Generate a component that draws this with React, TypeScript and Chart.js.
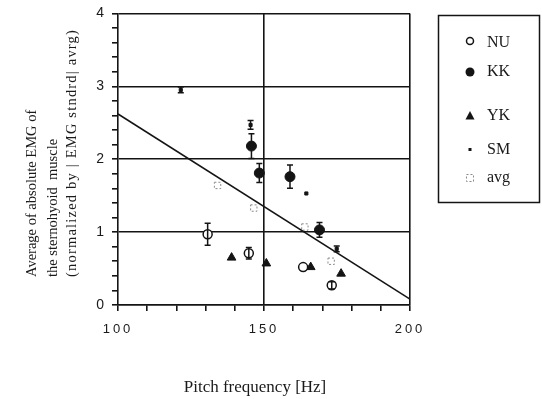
import React, { useEffect, useRef } from 'react';
import { Chart, registerables } from 'chart.js';

Chart.register(...registerables);

// ---- data ----
const nuX = [130.7, 144.8, 163.4, 173.2];
const nuY = [0.97, 0.71, 0.52, 0.27];
const nuErr = [0.15, 0.08, 0, 0.05];

const kkX = [145.7, 148.4, 158.9, 169.0];
const kkY = [2.18, 1.81, 1.76, 1.03];
const kkErr = [0.17, 0.13, 0.16, 0.1];

const ykX = [138.9, 150.8, 166.0, 176.4];
const ykY = [0.65, 0.57, 0.52, 0.43];

const smX = [121.5, 145.4, 164.5, 174.9];
const smY = [2.95, 2.47, 1.53, 0.77];
const smErr = [0.04, 0.06, 0, 0.04];

const avgX = [134.1, 146.5, 164.0, 173.0];
const avgY = [1.64, 1.33, 1.07, 0.6];

const fitX = [100, 200];
const fitY = [2.62, 0.08];

const xTickLabels = [100, 150, 200];
const yTickLabels = [0, 1, 2, 3, 4];
const seriesNames = ['NU', 'KK', 'YK', 'SM', 'avg'];
const xTitle = 'Pitch frequency [Hz]';
const yTitle = [
  'Average of absolute EMG of',
  'the sternohyoid  muscle',
  '(normalized by | EMG stndrd| avrg)',
];

const INK = '#141414';
const SERIF = '"Liberation Serif", "DejaVu Serif", serif';
const SANS = '"Liberation Sans", Arial, sans-serif';

const pts = (xs: number[], ys: number[]) => xs.map((x, i) => ({ x, y: ys[i] }));

const errorBarPlugin = {
  id: 'errorBars',
  afterDatasetsDraw(chart: any) {
    const ctx = chart.ctx;
    const xs = chart.scales.x;
    const ys = chart.scales.y;
    chart.data.datasets.forEach((ds: any) => {
      const errs: number[] | undefined = ds.errors;
      if (!errs) return;
      ds.data.forEach((p: any, i: number) => {
        const e = errs[i];
        if (!e) return;
        const px = xs.getPixelForValue(p.x);
        const top = ys.getPixelForValue(p.y + e);
        const bot = ys.getPixelForValue(p.y - e);
        ctx.save();
        ctx.strokeStyle = INK;
        ctx.lineWidth = 1.5;
        ctx.setLineDash([]);
        ctx.beginPath();
        ctx.moveTo(px, top);
        ctx.lineTo(px, bot);
        ctx.moveTo(px - 3, top);
        ctx.lineTo(px + 3, top);
        ctx.moveTo(px - 3, bot);
        ctx.lineTo(px + 3, bot);
        ctx.stroke();
        ctx.restore();
      });
    });
  },
};

const spacingPlugin = {
  id: 'spacing',
  beforeDraw(chart: any) {
    chart.ctx.letterSpacing = '3px';
  },
  beforeDatasetsDraw(chart: any) {
    chart.ctx.letterSpacing = '0px';
  },
  beforeDatasetDraw(chart: any, args: any) {
    const ds = chart.data.datasets[args.index];
    if (ds.dashed) chart.ctx.setLineDash([2, 2]);
  },
  afterDatasetDraw(chart: any) {
    chart.ctx.setLineDash([]);
  },
};

const textPlugin = {
  id: 'texts',
  afterDraw(chart: any) {
    const ctx = chart.ctx;
    const area = chart.chartArea;
    ctx.save();
    ctx.letterSpacing = '0px';
    ctx.fillStyle = '#1a1a1a';
    // x title
    ctx.font = `17px ${SERIF}`;
    ctx.textAlign = 'center';
    ctx.textBaseline = 'middle';
    ctx.fillText(xTitle, (area.left + area.right) / 2 - 9, 388);
    // y title
    ctx.save();
    ctx.rotate(-Math.PI / 2);
    ctx.textAlign = 'left';
    ctx.font = `14.5px ${SERIF}`;
    const lineX = [32, 53, 72];
    const spacing = ['0px', '0px', '1.2px'];
    yTitle.forEach((t, i) => {
      ctx.letterSpacing = spacing[i];
      ctx.fillText(t, -277, lineX[i]);
    });
    ctx.letterSpacing = '0px';
    ctx.restore();

    // legend box
    ctx.strokeStyle = INK;
    ctx.lineWidth = 1.5;
    ctx.strokeRect(438.5, 15.5, 101, 187);
    const rowY = [43, 72, 116, 150, 178];
    const mx = 470;
    ctx.font = `16px ${SERIF}`;
    ctx.textAlign = 'left';
    ctx.textBaseline = 'middle';
    seriesNames.forEach((name, i) => {
      const y = rowY[i];
      ctx.save();
      ctx.fillStyle = INK;
      ctx.strokeStyle = INK;
      if (i === 0) {
        ctx.lineWidth = 1.5;
        ctx.beginPath();
        ctx.arc(mx, y - 2, 3.5, 0, Math.PI * 2);
        ctx.stroke();
      } else if (i === 1) {
        ctx.beginPath();
        ctx.arc(mx, y, 4.5, 0, Math.PI * 2);
        ctx.fill();
      } else if (i === 2) {
        ctx.beginPath();
        ctx.moveTo(mx, y - 5);
        ctx.lineTo(mx + 4.5, y + 3.5);
        ctx.lineTo(mx - 4.5, y + 3.5);
        ctx.closePath();
        ctx.fill();
      } else if (i === 3) {
        ctx.fillRect(mx - 1.5, y - 2, 3, 3);
      } else {
        ctx.strokeStyle = '#888';
        ctx.lineWidth = 1;
        ctx.setLineDash([2, 2]);
        ctx.strokeRect(mx - 3.5, y - 3.5, 7, 7);
      }
      ctx.restore();
      ctx.fillText(name, 487, y);
    });
    ctx.restore();
  },
};

export default function App() {
  const ref = useRef<HTMLCanvasElement | null>(null);
  useEffect(() => {
    document.body.style.margin = '0';
    const canvas = ref.current;
    if (!canvas) return;
    const chart = new Chart(canvas, {
      type: 'scatter',
      data: {
        datasets: [
          {
            label: 'fit',
            data: pts(fitX, fitY),
            showLine: true,
            borderColor: INK,
            borderWidth: 1.6,
            pointRadius: 0,
            fill: false,
          },
          {
            label: seriesNames[4],
            data: pts(avgX, avgY),
            pointStyle: 'rect',
            pointRadius: 4.5,
            backgroundColor: 'rgba(255,255,255,0)',
            borderColor: '#8a8a8a',
            borderWidth: 1,
            dashed: true,
          },
          {
            label: seriesNames[0],
            data: pts(nuX, nuY),
            pointStyle: 'circle',
            pointRadius: 4.5,
            backgroundColor: '#ffffff',
            borderColor: INK,
            borderWidth: 1.5,
            errors: nuErr,
          },
          {
            label: seriesNames[1],
            data: pts(kkX, kkY),
            pointStyle: 'circle',
            pointRadius: 5,
            backgroundColor: INK,
            borderColor: INK,
            borderWidth: 1,
            errors: kkErr,
          },
          {
            label: seriesNames[2],
            data: pts(ykX, ykY),
            pointStyle: 'triangle',
            pointRadius: 5,
            backgroundColor: INK,
            borderColor: INK,
            borderWidth: 1,
          },
          {
            label: seriesNames[3],
            data: pts(smX, smY),
            pointStyle: 'rect',
            pointRadius: 2.2,
            backgroundColor: INK,
            borderColor: INK,
            borderWidth: 1,
            errors: smErr,
          },
        ] as any,
      },
      options: {
        responsive: false,
        animation: false,
        events: [],
        layout: { padding: { left: 0, right: 132, top: 10, bottom: 0 } },
        plugins: {
          legend: { display: false },
          tooltip: { enabled: false },
        },
        scales: {
          x: {
            type: 'linear',
            min: 100,
            max: 200,
            afterFit(scale: any) {
              scale.height = 94;
            },
            border: { color: INK, width: 1.6 },
            grid: {
              color: (c: any) =>
                c.tick && (c.tick.value === 150 || c.tick.value === 200) ? INK : 'rgba(0,0,0,0)',
              lineWidth: 1.6,
              tickColor: INK,
              tickLength: 6,
              drawTicks: true,
            },
            ticks: {
              stepSize: 10,
              autoSkip: false,
              maxRotation: 0,
              padding: 11,
              color: '#1a1a1a',
              font: { family: SANS, size: 13 },
              callback: (v: any) => (xTickLabels.includes(Number(v)) ? String(v) : ''),
            },
          },
          y: {
            type: 'linear',
            min: 0,
            max: 4,
            afterFit(scale: any) {
              scale.width = 118;
            },
            border: { color: INK, width: 1.6 },
            grid: {
              color: (c: any) => {
                const v = c.tick ? c.tick.value : 0.5;
                return Math.abs(v - Math.round(v)) < 1e-6 ? INK : 'rgba(0,0,0,0)';
              },
              lineWidth: 1.6,
              tickColor: INK,
              tickLength: 6,
              drawTicks: true,
            },
            ticks: {
              stepSize: 0.2,
              autoSkip: false,
              padding: 5,
              color: '#1a1a1a',
              font: { family: SANS, size: 14 },
              callback: (v: any) => {
                const n = Number(v);
                const r = Math.round(n);
                return Math.abs(n - r) < 1e-6 && yTickLabels.includes(r) ? String(r) : '';
              },
            },
          },
        },
      },
      plugins: [spacingPlugin, errorBarPlugin, textPlugin],
    } as any);
    return () => chart.destroy();
  }, []);
  return (
    <div style={{ width: 542, height: 399, background: '#fff' }}>
      <canvas ref={ref} width={542} height={399} />
    </div>
  );
}
